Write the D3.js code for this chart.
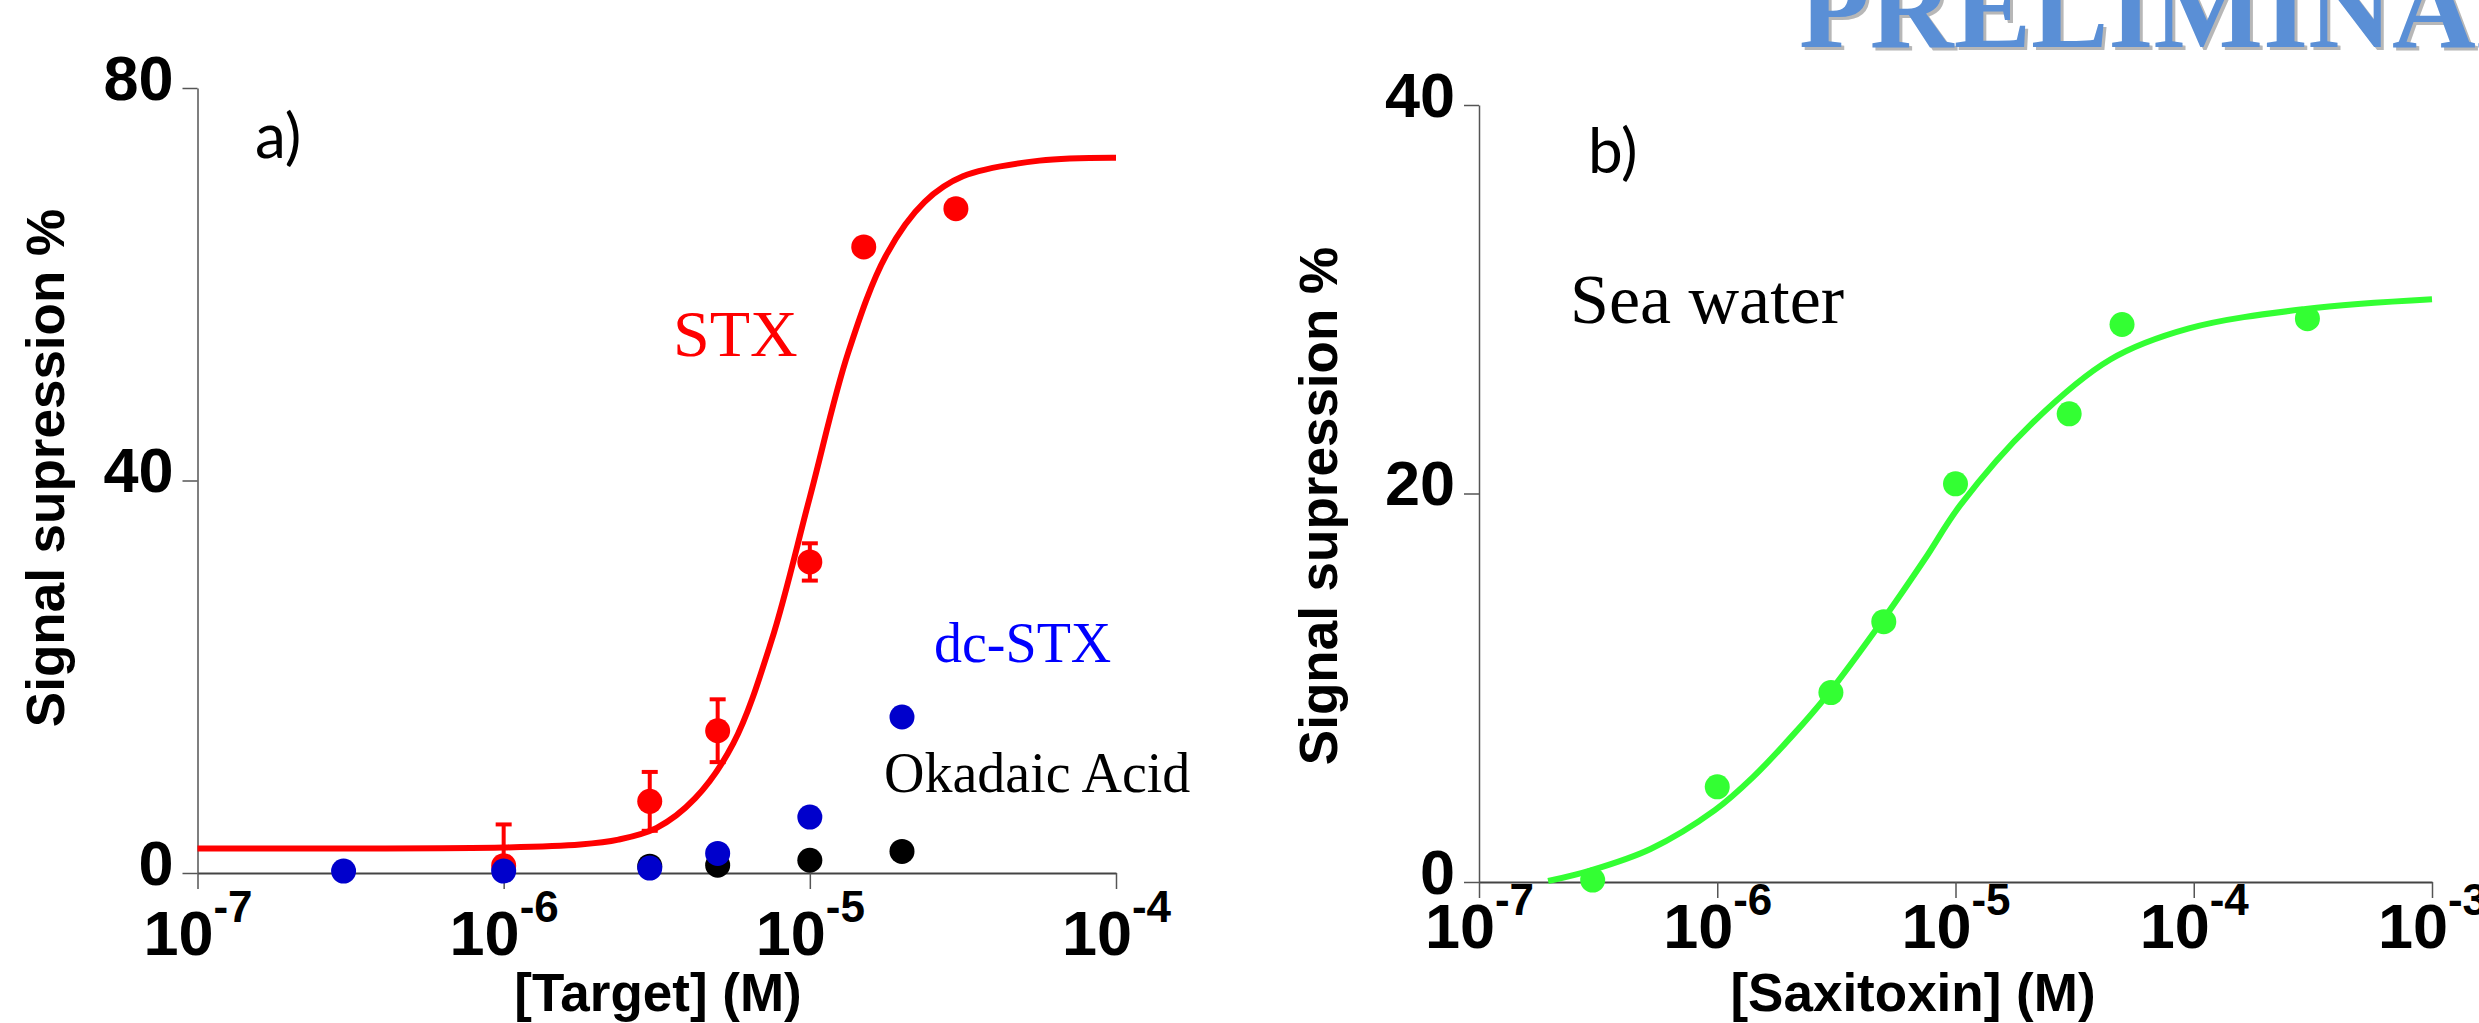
<!DOCTYPE html>
<html>
<head>
<meta charset="utf-8">
<script src="https://cdn.jsdelivr.net/npm/d3@7"></script>
<style>
  body { margin: 0; background: #fff; overflow: hidden; }
</style>
</head>
<body>
<div id="chart"></div>
<script>
// ---- panel a) : binding of STX, dc-STX and okadaic acid ----
let stx_conc = [1e-6, 3e-6, 5e-6, 1e-5, 1.5e-5, 3e-5];
let stx_signal = [0.75, 7.3, 14.5, 31.7, 63.8, 67.7];
let stx_error = [4.2, 3.0, 3.2, 1.9, 0, 0];

// fitted sigmoid (log10 of concentration)
let stx_fit_log = [-7, -6.5, -6, -5.75, -5.625, -5.5, -5.375, -5.25, -5.125, -5, -4.875, -4.75, -4.625, -4.5, -4.25, -4];
let stx_fit_signal = [2.5, 2.5, 2.6, 2.9, 3.4, 4.6, 7.6, 13.2, 23.7, 38.3, 53.0, 63.0, 68.4, 71.0, 72.6, 72.9];

let dc_conc = [3e-7, 1e-6, 3e-6, 5e-6, 1e-5, 2e-5];
let dc_signal = [0.2, 0.2, 0.5, 2.0, 5.7, 15.9];

let ok_conc = [3e-6, 5e-6, 1e-5, 2e-5];
let ok_signal = [0.7, 0.8, 1.3, 2.2];

let x_ticks_a = [1e-7, 1e-6, 1e-5, 1e-4];
let y_ticks_a = [0, 40, 80];

// ---- panel b) : saxitoxin in sea water ----
let sea_conc = [3e-7, 1e-6, 3e-6, 5e-6, 1e-5, 3e-5, 5e-5, 3e-4];
let sea_signal = [0.1, 4.9, 9.75, 13.4, 20.5, 24.1, 28.7, 29.0];

let sea_fit_log = [-6.71, -6.53, -6.28, -6.01, -5.85, -5.68, -5.54, -5.31, -5.13, -4.98, -4.68, -4.35, -4.02, -3.53, -3.0];
let sea_fit_signal = [0.05, 0.6, 1.7, 3.7, 5.4, 7.6, 9.6, 13.4, 16.6, 19.4, 23.6, 26.9, 28.5, 29.5, 30.0];

let x_ticks_b = [1e-7, 1e-6, 1e-5, 1e-4, 1e-3];
let y_ticks_b = [0, 20, 40];

let sans = "'Liberation Sans', Arial, Helvetica, sans-serif";
let serif = "'Liberation Serif', 'Times New Roman', serif";
let label_font = "Lato, 'Open Sans', sans-serif";

let svg = d3.select("#chart")
  .append("svg")
    .attr("width", 2479)
    .attr("height", 1023)
    .attr("xmlns", "http://www.w3.org/2000/svg")
    .style("background", "#fff");

// x axis with 10^n labels, y axis with plain labels
function draw_axes(x, y, x_ticks, y_ticks, x_label_y)
{
  let x_axis = svg.append("g")
    .attr("transform", "translate(0," + y(0) + ")")
    .call(d3.axisBottom(x).tickValues(x_ticks).tickSize(16).tickSizeOuter(0));

  x_axis.select(".domain").attr("stroke", "#444").attr("stroke-width", 2);
  x_axis.selectAll(".tick line").attr("stroke", "#555").attr("stroke-width", 1.5);
  x_axis.selectAll(".tick text").each(function (d) {
    let t = d3.select(this);
    t.text(null)
      .attr("y", x_label_y)
      .attr("dy", 0)
      .attr("fill", "#000")
      .attr("font-family", sans)
      .attr("font-weight", "bold")
      .attr("font-size", 63);
    t.append("tspan").text("10");
    t.append("tspan")
      .attr("font-size", 44)
      .attr("dy", -33)
      .text("-" + Math.round(-Math.log10(d)));
  });

  let y_axis = svg.append("g")
    .attr("transform", "translate(" + x.range()[0] + ",0)")
    .call(d3.axisLeft(y).tickValues(y_ticks).tickSize(15).tickPadding(9).tickSizeOuter(0));

  y_axis.select(".domain").attr("stroke", "#555").attr("stroke-width", 1.5);
  y_axis.selectAll(".tick line").attr("stroke", "#555").attr("stroke-width", 1.5);
  y_axis.selectAll(".tick text")
    .attr("dy", 11)
    .attr("fill", "#000")
    .attr("font-family", sans)
    .attr("font-weight", "bold")
    .attr("font-size", 63);
}

function draw_text(str, x, y, size, family, color, weight)
{
  return svg.append("text")
    .attr("x", x)
    .attr("y", y)
    .attr("font-family", family)
    .attr("font-size", size)
    .attr("font-weight", weight || "normal")
    .attr("fill", color)
    .text(str);
}

function draw_y_title(str, x, y)
{
  svg.append("text")
    .attr("transform", "translate(" + x + "," + y + ") rotate(-90)")
    .attr("text-anchor", "middle")
    .attr("font-family", sans)
    .attr("font-weight", "bold")
    .attr("font-size", 53)
    .attr("fill", "#000")
    .text(str);
}

function draw_dots(x, y, conc, signal, color)
{
  svg.append("g")
    .selectAll("circle")
    .data(conc)
    .join("circle")
      .attr("cx", d => x(d))
      .attr("cy", (d, i) => y(signal[i]))
      .attr("r", 12.5)
      .attr("fill", color);
}

function draw_fit(x, y, logs, signal, color)
{
  let line = d3.line()
    .x(d => x(Math.pow(10, d)))
    .y((d, i) => y(signal[i]))
    .curve(d3.curveCatmullRom.alpha(0.5));

  svg.append("path")
    .attr("d", line(logs))
    .attr("fill", "none")
    .attr("stroke", color)
    .attr("stroke-width", 6)
    .attr("stroke-linecap", "butt");
}

// ---------------- panel a ----------------
let xa = d3.scaleLog().domain([1e-7, 1e-4]).range([197.5, 1116]);
let ya = d3.scaleLinear().domain([0, 80]).range([873, 88]);

draw_axes(xa, ya, x_ticks_a, y_ticks_a, 82);
draw_fit(xa, ya, stx_fit_log, stx_fit_signal, "#ff0000");

// error bars
let err_g = svg.append("g").attr("stroke", "#ff0000").attr("stroke-width", 4);
stx_conc.forEach(function (c, i) {
  if (stx_error[i] <= 0) return;
  let cx = xa(c);
  let top = ya(stx_signal[i] + stx_error[i]);
  let bot = ya(Math.max(0, stx_signal[i] - stx_error[i]));
  err_g.append("line").attr("x1", cx).attr("x2", cx).attr("y1", top).attr("y2", bot);
  err_g.append("line").attr("x1", cx - 8).attr("x2", cx + 8).attr("y1", top).attr("y2", top);
  err_g.append("line").attr("x1", cx - 8).attr("x2", cx + 8).attr("y1", bot).attr("y2", bot);
});

draw_dots(xa, ya, stx_conc, stx_signal, "#ff0000");
draw_dots(xa, ya, ok_conc, ok_signal, "#000000");
draw_dots(xa, ya, dc_conc, dc_signal, "#0000cc");

draw_text("a)", 255, 158, 62, label_font, "#000");
draw_text("STX", 673, 356, 66, serif, "#ff0000");
draw_text("dc-STX", 934, 662, 56, serif, "#0000ff");
draw_text("Okadaic Acid", 884, 792, 56, serif, "#000");

draw_y_title("Signal supression %", 64, 468);
draw_text("[Target] (M)", 658, 1011, 53, sans, "#000", "bold").attr("text-anchor", "middle");

// ---------------- panel b ----------------
let xb = d3.scaleLog().domain([1e-7, 1e-3]).range([1479, 2432]);
let yb = d3.scaleLinear().domain([0, 40]).range([882, 105]);

draw_axes(xb, yb, x_ticks_b, y_ticks_b, 66);
draw_fit(xb, yb, sea_fit_log, sea_fit_signal, "#33ff33");
draw_dots(xb, yb, sea_conc, sea_signal, "#33ff33");

draw_text("b)", 1588, 173, 62, label_font, "#000");
draw_text("Sea water", 1570, 323, 70, serif, "#000");

draw_y_title("Signal supression %", 1337, 506);
draw_text("[Saxitoxin] (M)", 1913, 1011, 53, sans, "#000", "bold").attr("text-anchor", "middle");

// watermark, cut off by the top and right edges
draw_text("PRELIMINARY", 1802, 50, 116, serif, "#9a9a9a", "bold").attr("opacity", 0.7);
draw_text("PRELIMINARY", 1799, 47, 116, serif, "#5a8fd6", "bold");
</script>
</body>
</html>
